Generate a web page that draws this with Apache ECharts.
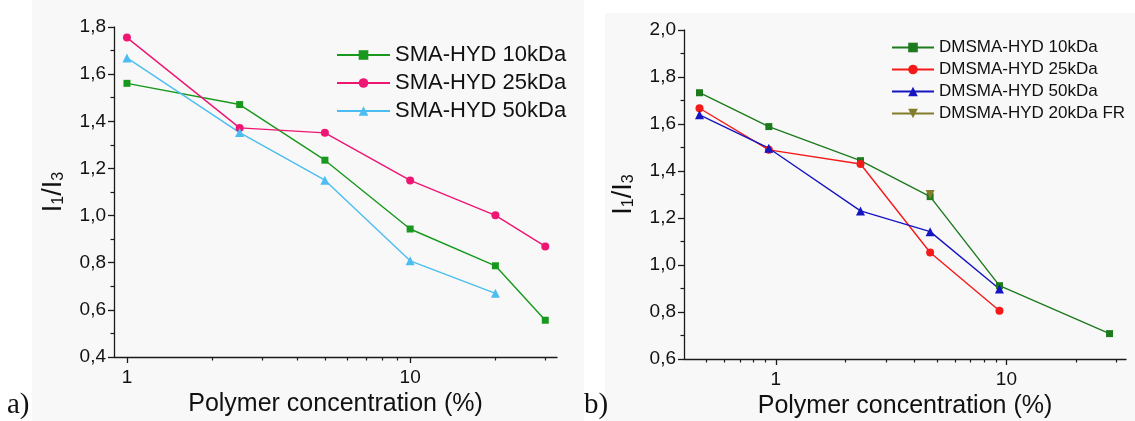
<!DOCTYPE html>
<html>
<head>
<meta charset="utf-8">
<script src="https://cdn.jsdelivr.net/npm/echarts@6/dist/echarts.min.js"></script>
<style>
  html, body { margin: 0; padding: 0; background: #ffffff; }
  #chart { width: 1135px; height: 421px; }
</style>
</head>
<body>
<div id="chart"></div>
<script>
// Panel a): SMA-HYD polymers
const concA = [1, 2.5, 5, 10, 20, 30];
const sma10 = [1.561, 1.471, 1.235, 0.943, 0.787, 0.556];
const sma25 = [1.755, 1.372, 1.351, 1.149, 1.001, 0.869];
const sma50 = [1.669, 1.352, 1.150, 0.808, 0.670];

// Panel b): DMSMA-HYD polymers
const concB = [0.467, 0.933, 2.33, 4.67, 9.33, 28];
const dmsma10 = [1.733, 1.589, 1.444, 1.291, 0.912, 0.708];
const dmsma25 = [1.667, 1.490, 1.430, 1.053, 0.805];
const dmsma50 = [1.639, 1.497, 1.230, 1.142, 0.898];
const dmsma20fr = [1.300];
const concB20fr = [4.67];

// Axis ticks
const majorTicks = [1, 10];
const minorTicksA = [2, 3, 4, 5, 6, 7, 8, 9, 20, 30];
const minorTicksB = [0.5, 0.6, 0.7, 0.8, 0.9, 2, 3, 4, 5, 6, 7, 8, 9, 20, 30];

const pairs = (xs, ys) => ys.map((y, i) => [xs[i], y]);
const comma = v => v.toFixed(1).replace('.', ',');

const FONT = '"Liberation Sans", Arial, sans-serif';
const SERIF = '"Liberation Serif", "Times New Roman", serif';
const AXIS_COLOR = '#1a1a1a';

function yAxis(gridIndex, min, max) {
  return {
    type: 'value', gridIndex, min, max, interval: 0.2,
    name: '{m|I}{s|1}{m|/I}{s|3}',
    nameLocation: 'middle', nameGap: 47, nameRotate: 90,
    nameTextStyle: {
      rich: {
        m: { fontSize: 27, fontFamily: FONT, color: '#111' },
        s: { fontSize: 16, fontFamily: FONT, color: '#111', verticalAlign: 'bottom' }
      }
    },
    axisLine: { show: true, lineStyle: { color: AXIS_COLOR, width: 1.3 } },
    axisTick: { show: true, inside: false, length: 6, lineStyle: { color: AXIS_COLOR, width: 1.3 } },
    minorTick: { show: true, splitNumber: 2, length: 3.5, lineStyle: { color: AXIS_COLOR, width: 1.2 } },
    axisLabel: { formatter: comma, fontSize: 19, fontFamily: FONT, color: '#111', margin: 8 },
    splitLine: { show: false }
  };
}

function xMain(gridIndex, min, max) {
  return {
    type: 'log', logBase: 10, gridIndex, min, max, position: 'bottom',
    name: 'Polymer concentration (%)',
    nameLocation: 'middle', nameGap: 29,
    nameTextStyle: { fontSize: 25, fontFamily: FONT, color: '#111' },
    axisLine: { show: true, onZero: false, lineStyle: { color: AXIS_COLOR, width: 1.3 } },
    axisTick: { show: true, inside: false, length: 6, customValues: majorTicks,
                lineStyle: { color: AXIS_COLOR, width: 1.3 } },
    axisLabel: { customValues: majorTicks, formatter: v => String(Math.round(v)),
                 fontSize: 19, fontFamily: FONT, color: '#111', margin: 11 },
    splitLine: { show: false }
  };
}

function xMinor(gridIndex, min, max, ticks) {
  return {
    type: 'log', logBase: 10, gridIndex, min, max, position: 'bottom',
    axisLine: { show: false, onZero: false },
    axisTick: { show: true, inside: false, length: 3.5, customValues: ticks,
                lineStyle: { color: AXIS_COLOR, width: 1.2 } },
    axisLabel: { show: false },
    splitLine: { show: false }
  };
}

function line(name, xAxisIndex, yAxisIndex, data, color, symbol, size) {
  return {
    name, type: 'line', xAxisIndex, yAxisIndex, data,
    symbol, symbolSize: size, showSymbol: true,
    lineStyle: { color, width: 1.4 },
    itemStyle: { color },
    emphasis: { disabled: true },
    animation: false
  };
}

const legendBase = {
  orient: 'vertical',
  inactiveColor: '#ccc', selectedMode: false
};

const option = {
  backgroundColor: '#ffffff',
  animation: false,
  graphic: [
    { type: 'rect', shape: { x: 32, y: 0, width: 552, height: 421 }, style: { fill: '#f8f8f8' }, z: -10, silent: true },
    { type: 'rect', shape: { x: 605, y: 13, width: 530, height: 408 }, style: { fill: '#f8f8f8' }, z: -10, silent: true },
    { type: 'text', left: 7, top: 391, style: { text: 'a)', fontSize: 29, fontFamily: SERIF, fill: '#111' } },
    { type: 'text', left: 584, top: 391, style: { text: 'b)', fontSize: 29, fontFamily: SERIF, fill: '#111' } }
  ],
  grid: [
    { left: 114, top: 27, width: 443, height: 330, outerBoundsMode: 'none', containLabel: false },
    { left: 684, top: 30, width: 442, height: 329, outerBoundsMode: 'none', containLabel: false }
  ],
  xAxis: [
    xMain(0, 0.9, 33),
    xMain(1, 0.4, 33),
    xMinor(0, 0.9, 33, minorTicksA),
    xMinor(1, 0.4, 33, minorTicksB)
  ],
  yAxis: [
    yAxis(0, 0.4, 1.8),
    yAxis(1, 0.6, 2.0)
  ],
  legend: [
    Object.assign({}, legendBase, {
      left: 331, top: 38, itemWidth: 53, itemHeight: 12, itemGap: 4,
      textStyle: { fontFamily: FONT, color: '#111', fontSize: 22, lineHeight: 24 },
      data: ['SMA-HYD 10kDa', 'SMA-HYD 25kDa', 'SMA-HYD 50kDa']
    }),
    Object.assign({}, legendBase, {
      left: 886, top: 33, itemWidth: 42, itemHeight: 12, itemGap: 3,
      textStyle: { fontFamily: FONT, color: '#111', fontSize: 17, lineHeight: 19 },
      data: ['DMSMA-HYD 10kDa', 'DMSMA-HYD 25kDa', 'DMSMA-HYD 50kDa', 'DMSMA-HYD 20kDa FR']
    })
  ],
  series: [
    line('SMA-HYD 10kDa', 0, 0, pairs(concA, sma10), '#18981c', 'rect', 7),
    line('SMA-HYD 25kDa', 0, 0, pairs(concA, sma25), '#ee1672', 'circle', 8),
    line('SMA-HYD 50kDa', 0, 0, pairs(concA, sma50), '#4cbdf0', 'triangle', 9),
    line('DMSMA-HYD 10kDa', 1, 1, pairs(concB, dmsma10), '#1d7a1d', 'rect', 7),
    line('DMSMA-HYD 25kDa', 1, 1, pairs(concB, dmsma25), '#f51a1a', 'circle', 8),
    line('DMSMA-HYD 50kDa', 1, 1, pairs(concB, dmsma50), '#1515c2', 'triangle', 9),
    line('DMSMA-HYD 20kDa FR', 1, 1, pairs(concB20fr, dmsma20fr), '#827d2a', 'path://M0,0 L2,0 L1,1.7 Z', 9)
  ]
};

const chart = echarts.init(document.getElementById('chart'), null, { renderer: 'canvas' });
chart.setOption(option);
</script>
</body>
</html>
